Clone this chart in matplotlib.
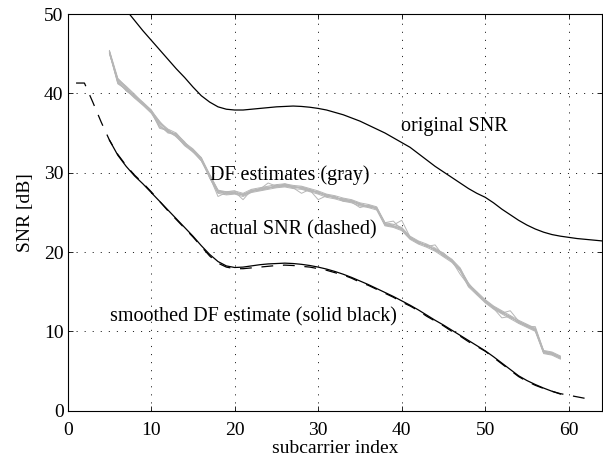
import numpy as np
import matplotlib
matplotlib.use('Agg')
from matplotlib import pyplot as plt

plt.rcParams['font.family'] = ['Liberation Serif', 'DejaVu Serif']
plt.rcParams['lines.scale_dashes'] = False

# ORIGINAL SNR (solid black, clipped at the top)
x_orig = np.arange(6, 65)
snr_orig = [51.7, 50.5, 49.2, 47.9, 46.7, 45.5, 44.3, 43.1, 42.0, 40.8,
            39.7, 38.9, 38.3, 38.0, 37.9, 37.9, 38.0, 38.1, 38.2, 38.3,
            38.35, 38.4, 38.35, 38.25, 38.1, 37.9, 37.6, 37.3, 36.9, 36.5,
            36.0, 35.5, 35.0, 34.4, 33.8, 33.2, 32.4, 31.6, 30.8, 30.1,
            29.4, 28.7, 28.0, 27.4, 26.9, 26.2, 25.4, 24.7, 24.0, 23.4,
            22.9, 22.5, 22.2, 22.0, 21.85, 21.7, 21.6, 21.5, 21.4]

# ACTUAL SNR (dashed)
x_act = np.arange(1, 64)
snr_act = [41.3, 41.3, 38.9, 36.4, 34.1, 32.3, 30.9, 29.7, 28.7, 27.6,
           26.4, 25.2, 24.1, 23.0, 21.9, 20.7, 19.5, 18.6, 18.1, 17.9,
           17.9, 18.0, 18.1, 18.2, 18.3, 18.35, 18.3, 18.2, 18.1, 17.9,
           17.7, 17.4, 17.1, 16.7, 16.2, 15.8, 15.3, 14.8, 14.3, 13.7,
           13.2, 12.6, 11.9, 11.3, 10.7, 10.0, 9.4, 8.7, 8.1, 7.5,
           6.7, 5.9, 5.1, 4.3, 3.7, 3.2, 2.8, 2.45, 2.15, 1.95,
           1.75, 1.55, 1.35]

# SMOOTHED DF ESTIMATE (solid black)
x_df = np.arange(5, 60)
snr_smooth = [34.1, 32.2, 30.8, 29.6, 28.6, 27.5, 26.4, 25.3, 24.2, 23.1,
              22.0, 20.8, 19.7, 18.8, 18.25, 18.05, 18.1, 18.25, 18.4, 18.5,
              18.55, 18.6, 18.55, 18.45, 18.3, 18.1, 17.85, 17.55, 17.2, 16.8,
              16.35, 15.9, 15.4, 14.9, 14.4, 13.85, 13.3, 12.7, 12.05, 11.4,
              10.8, 10.15, 9.5, 8.85, 8.2, 7.55, 6.8, 6.0, 5.2, 4.4,
              3.8, 3.3, 2.85, 2.45, 2.1]

# DF ESTIMATES (gray), one list per estimate
df_est = [
    [45.4, 41.9, 40.8, 39.8, 38.9, 37.9, 36.4, 35.5, 35.0, 33.8, 33.0, 31.9, 29.8, 27.8, 27.6,
     27.7, 27.4, 27.9, 28.1, 28.3, 28.5, 28.6, 28.4, 28.3, 28.0, 27.7, 27.3, 27.1, 26.8, 26.6,
     26.2, 26.0, 25.7, 23.7, 23.5, 23.1, 22.0, 21.4, 21.0, 20.5, 19.8, 19.1, 18.0, 16.0, 15.0,
     14.0, 13.2, 12.6, 12.0, 11.4, 10.9, 10.4, 7.6, 7.4, 6.9],
    [45.0, 41.4, 40.4, 39.4, 38.5, 37.5, 35.9, 35.1, 34.6, 33.4, 32.6, 31.5, 29.4, 27.4, 27.2,
     27.3, 27.0, 27.5, 27.7, 27.9, 28.1, 28.2, 28.0, 27.9, 27.6, 27.3, 26.9, 26.7, 26.4, 26.2,
     25.8, 25.6, 25.3, 23.3, 23.1, 22.7, 21.6, 21.0, 20.6, 20.1, 19.4, 18.7, 17.6, 15.6, 14.6,
     13.6, 12.8, 12.2, 11.6, 11.0, 10.5, 10.0, 7.2, 7.0, 6.5],
    [45.1, 41.2, 40.5, 39.7, 38.6, 37.8, 35.7, 35.4, 34.7, 33.7, 32.7, 31.6, 29.5, 27.0, 27.5,
     27.4, 27.3, 27.6, 28.0, 28.2, 28.2, 28.5, 28.1, 27.4, 27.9, 27.4, 27.2, 26.8, 26.7, 26.3,
     26.1, 25.7, 25.6, 23.4, 23.2, 23.0, 21.7, 21.3, 20.7, 20.9, 19.5, 19.0, 17.7, 15.9, 14.7,
     13.9, 12.9, 11.7, 11.9, 11.1, 10.8, 10.1, 7.3, 7.1, 6.6],
    [45.3, 41.7, 40.7, 39.5, 38.8, 37.6, 36.3, 35.2, 34.9, 33.5, 32.9, 31.8, 29.7, 27.7, 27.3,
     27.6, 26.6, 27.8, 27.8, 28.0, 28.4, 28.3, 28.3, 28.0, 27.7, 27.6, 27.0, 27.0, 26.5, 26.5,
     25.9, 25.9, 25.4, 23.6, 23.4, 24.0, 21.9, 21.1, 20.9, 20.2, 19.7, 18.8, 17.9, 15.7, 14.9,
     13.7, 13.1, 12.3, 12.6, 11.3, 10.6, 10.6, 7.5, 7.3, 6.8],
    [45.2, 41.5, 40.3, 39.6, 38.7, 37.7, 35.6, 35.3, 34.6, 33.6, 32.8, 31.6, 29.6, 27.5, 27.4,
     27.5, 27.2, 27.7, 27.9, 28.7, 28.3, 28.4, 28.2, 28.1, 27.8, 26.6, 27.1, 26.9, 26.6, 26.4,
     26.0, 25.8, 25.5, 23.5, 23.3, 22.9, 21.8, 21.2, 20.8, 20.3, 19.6, 18.9, 17.2, 15.8, 14.8,
     13.8, 13.0, 12.4, 11.8, 11.2, 10.7, 10.2, 7.4, 7.2, 6.7],
    [45.0, 41.8, 40.9, 39.9, 38.8, 37.9, 36.0, 35.0, 34.9, 33.9, 32.6, 31.9, 29.3, 27.6, 27.6,
     27.7, 27.1, 27.6, 28.0, 28.1, 28.2, 28.6, 28.2, 28.2, 27.9, 27.5, 27.2, 26.8, 26.7, 26.5,
     26.1, 25.7, 25.5, 23.7, 23.9, 22.8, 21.9, 21.3, 20.7, 20.4, 19.5, 19.0, 17.8, 16.1, 14.7,
     13.9, 13.1, 12.5, 11.7, 11.3, 10.8, 10.3, 7.3, 7.1, 6.8],
    [45.3, 41.3, 40.5, 39.5, 38.6, 37.6, 36.2, 35.4, 34.5, 33.5, 32.7, 31.5, 29.7, 27.8, 27.3,
     27.4, 27.3, 27.6, 27.8, 28.0, 28.4, 28.5, 28.3, 28.0, 27.7, 27.6, 27.0, 26.9, 26.5, 26.3,
     25.6, 25.9, 25.6, 23.4, 23.2, 22.8, 21.7, 21.1, 20.9, 20.2, 19.7, 18.8, 17.9, 15.7, 14.9,
     13.7, 12.9, 12.3, 11.9, 11.1, 10.6, 10.1, 7.5, 7.3, 6.6],
    [45.2, 41.6, 40.6, 39.7, 38.6, 37.8, 36.5, 35.2, 34.8, 33.7, 32.9, 31.6, 29.5, 27.7, 27.5,
     27.4, 27.2, 27.8, 27.9, 28.1, 28.2, 28.3, 28.1, 28.2, 27.8, 27.4, 27.2, 27.0, 26.4, 26.4,
     26.0, 25.7, 25.5, 23.5, 23.3, 23.0, 21.8, 21.2, 20.8, 20.3, 19.9, 18.9, 17.7, 15.9, 14.8,
     13.8, 13.0, 12.4, 11.8, 11.2, 10.7, 10.2, 7.4, 7.2, 6.7],
]

fig = plt.figure(figsize=(6.03, 4.61), dpi=100)
ax = fig.add_axes([0.1123, 0.1091, 0.8862, 0.8605])

for est in df_est:
    ax.plot(x_df, est, color='#b6b6b6', lw=0.7)
ax.plot(x_orig, snr_orig, color='k', lw=0.9)
ax.plot(x_act, snr_act, color='k', lw=0.9, dashes=[8.5, 7])
ax.plot(x_df, snr_smooth, color='k', lw=0.9)

ax.set_xlim(0, 64)
ax.set_ylim(0, 50)
ax.set_xticks(np.arange(0, 61, 10))
ax.set_yticks(np.arange(0, 51, 10))
ax.grid(True, color='k', lw=0.6, dashes=[0.8, 5])
ax.tick_params(direction='in', top=True, right=True, length=3.5, width=0.6,
               labelsize=14)
ax.tick_params(axis='x', pad=8)
ax.tick_params(axis='y', pad=3)
for s in ax.spines.values():
    s.set_linewidth(0.8)

fs = 14.5
ax.text(39.95, 35.8, 'original SNR', fontsize=fs, va='center')
ax.text(17.0, 29.7, 'DF estimates (gray)', fontsize=fs, va='center')
ax.text(17.0, 22.8, 'actual SNR (dashed)', fontsize=fs, va='center')
ax.text(5.07, 11.85, 'smoothed DF estimate (solid black)', fontsize=fs, va='center')

ax.set_xlabel('subcarrier index', fontsize=14, labelpad=1)
ax.set_ylabel('SNR [dB]', fontsize=14, labelpad=7)

fig.savefig('out.png', dpi=100)
